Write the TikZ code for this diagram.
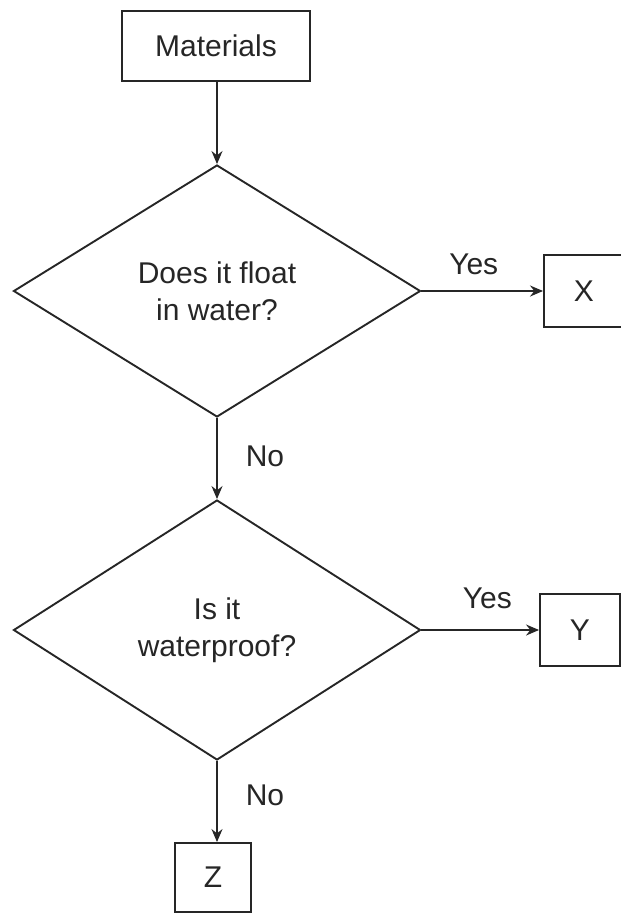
\documentclass[tikz,border=0pt]{standalone}
\usepackage{fontspec}
\setmainfont{Liberation Sans}
\usetikzlibrary{shapes.geometric,arrows.meta}
\begin{document}
\begin{tikzpicture}[x=1pt,y=-1pt,
  every node/.style={font=\fontsize{30}{37}\selectfont, text=black!85},
  box/.style={draw, line width=1.9pt, inner sep=0pt, black!85},
  dia/.style={draw, diamond, line width=1.9pt, inner sep=0pt, minimum width=407pt, black!85, align=center},
  conn/.style={line width=1.7pt, black!85, -{Stealth[length=13pt,width=11pt]}},
  lbl/.style={inner sep=0pt}
]
\useasboundingbox (0,0) rectangle (621,914);
\node[box, minimum width=188pt, minimum height=70pt] (mat) at (216,46) {Materials};
\node[dia, minimum height=252pt] (d1) at (217,291) {Does it float\\in water?};
\node[box, minimum width=80pt, minimum height=72pt] (x) at (584,291) {X};
\node[dia, minimum height=260pt] (d2) at (217,630) {Is it\\waterproof?};
\node[box, minimum width=80pt, minimum height=72pt] (y) at (580,630) {Y};
\node[box, minimum width=76pt, minimum height=69pt] (z) at (213,877.5) {Z};
\draw[conn] (mat.south -| d1.north) -- (d1.north);
\draw[conn] (d1.east) -- node[lbl, pos=0.43, yshift=27pt] {Yes} (x.west);
\draw[conn] (d1.south) -- node[lbl, pos=0.47, xshift=48pt] {No} (d2.north);
\draw[conn] (d2.east) -- node[lbl, pos=0.56, yshift=32pt] {Yes} (y.west);
\draw[conn] (d2.south) -- node[lbl, pos=0.42, xshift=48pt] {No} (d2.south |- z.north);
\end{tikzpicture}
\end{document}
